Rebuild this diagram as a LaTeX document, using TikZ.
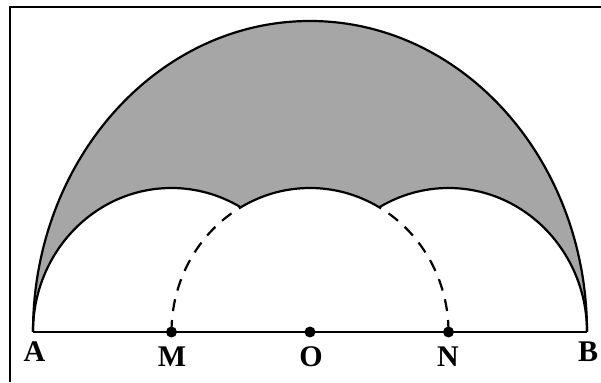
\documentclass[tikz,border=0pt]{standalone}
\usepackage{fontspec}
\setmainfont{Liberation Serif}
\definecolor{regiongray}{RGB}{166,166,166}
\begin{document}
\begin{tikzpicture}[x=1pt,y=1pt,
  curve/.style={line width=2.2pt,line join=round},
  dashcurve/.style={line width=2.2pt,dash pattern=on 12pt off 9pt},
  dotmark/.style={circle,fill=black,inner sep=0pt,minimum size=11pt},
  lbl/.style={font=\fontsize{30pt}{30pt}\selectfont\bfseries,anchor=base,inner sep=0pt},
  frame/.style={line width=2.4pt}]
\useasboundingbox (0,0) rectangle (601,382);
% frame (left and top sides visible)
\draw[frame] (10,0) -- (10,375) -- (601,375);
\coordinate (A) at (33,50);
\coordinate (M) at (171.5,50);
\coordinate (O) at (310,50);
\coordinate (N) at (448.5,50);
\coordinate (B) at (587,50);
% shaded region
\fill[regiongray] (A) arc[start angle=180,end angle=0,x radius=277,y radius=311]
  arc[start angle=0,end angle=120,x radius=138.5,y radius=144]
  arc[start angle=60,end angle=120,x radius=138.5,y radius=144]
  arc[start angle=60,end angle=180,x radius=138.5,y radius=144] -- cycle;
% big arc
\draw[curve] (A) arc[start angle=180,end angle=0,x radius=277,y radius=311];
% small arcs
\draw[curve] (A) arc[start angle=180,end angle=60,x radius=138.5,y radius=144];
\draw[curve] (B) arc[start angle=0,end angle=120,x radius=138.5,y radius=144];
\draw[curve] ([shift={(-69.25,124.71)}]O) arc[start angle=120,end angle=60,x radius=138.5,y radius=144];
% dashed parts of middle arc
\draw[dashcurve] (M) arc[start angle=180,end angle=120,x radius=138.5,y radius=144];
\draw[dashcurve] (N) arc[start angle=0,end angle=60,x radius=138.5,y radius=144];
% base line
\draw[line width=2.6pt] (A) -- (B);
\node[dotmark] (dM) at (M) {};
\node[dotmark] (dO) at (O) {};
\node[dotmark] (dN) at (N) {};
% labels
\node[lbl] (lA) at (34.5,20) {A};
\node[lbl] (lM) at (172,16) {M};
\node[lbl] (lO) at (311,16) {O};
\node[lbl] (lN) at (448,16) {N};
\node[lbl] (lB) at (588,20) {B};
\end{tikzpicture}
\end{document}
